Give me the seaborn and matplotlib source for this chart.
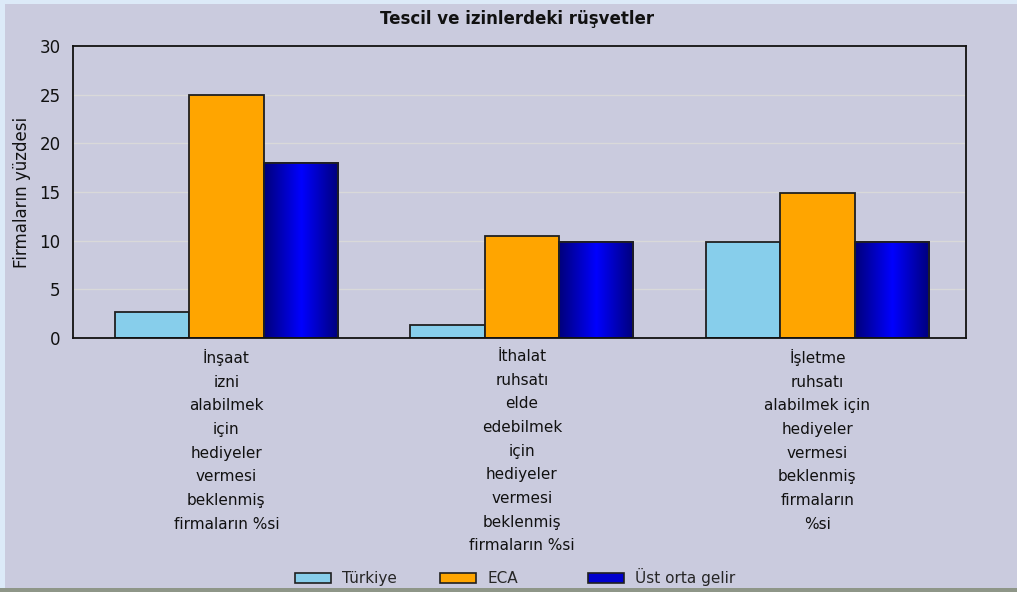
import numpy as np
import pandas as pd
import matplotlib
matplotlib.use("Agg")
import matplotlib.pyplot as plt
import seaborn as sns
from matplotlib.patches import Rectangle
from matplotlib.colors import LinearSegmentedColormap

# ---- data ----
categories = [
    "İnşaat\nizni\nalabilmek\niçin\nhediyeler\nvermesi\nbeklenmiş\nfirmaların %si",
    "İthalat\nruhsatı\nelde\nedebilmek\niçin\nhediyeler\nvermesi\nbeklenmiş\nfirmaların %si",
    "İşletme\nruhsatı\nalabilmek için\nhediyeler\nvermesi\nbeklenmiş\nfirmaların\n%si",
]
series_names = ["Türkiye", "ECA", "Üst orta gelir"]
turkiye = [2.7, 1.3, 9.9]
eca = [25.0, 10.5, 14.9]
ust_orta = [18.0, 9.9, 9.9]
yticks = [0, 5, 10, 15, 20, 25, 30]

title = "Tescil ve izinlerdeki rüşvetler"
ylabel = "Firmaların yüzdesi"

df = pd.DataFrame({
    "cat": categories * 3,
    "series": [s for s in series_names for _ in categories],
    "value": turkiye + eca + ust_orta,
})

bg = "#CACBDE"
palette = {"Türkiye": "#87CEEB", "ECA": "#FFA500", "Üst orta gelir": "#0000CD"}

sns.set_theme(style="white")
plt.rcParams["font.family"] = ["DejaVu Sans"]

fig = plt.figure(figsize=(10.17, 5.92), dpi=100)
fig.patch.set_facecolor("#DCEAF8")
# lavender panel and bottom band
fig.add_artist(Rectangle((5 / 1017, 4 / 592), 1 - 5 / 1017, 1 - 8 / 592,
                         transform=fig.transFigure, facecolor=bg, edgecolor="none", zorder=-10))
fig.add_artist(Rectangle((0, 0), 1, 4 / 592, transform=fig.transFigure,
                         facecolor="#8E9688", edgecolor="none", zorder=-9))

ax = fig.add_axes([73 / 1017, 1 - 338 / 592, (966 - 73) / 1017, (338 - 46) / 592])
ax.set_facecolor(bg)

sns.barplot(data=df, x="cat", y="value", hue="series", palette=palette,
            width=0.755, edgecolor="#202020", linewidth=1.3, ax=ax, legend=False,
            saturation=1, errorbar=None)

# gradient for the third series
cmap = LinearSegmentedColormap.from_list("bl", ["#00007A", "#0000FF", "#00007A"])
grad = np.linspace(0, 1, 256).reshape(1, -1)
for patch in ax.containers[2]:
    x0, y0 = patch.get_x(), patch.get_y()
    w, h = patch.get_width(), patch.get_height()
    im = ax.imshow(grad, cmap=cmap, extent=[x0, x0 + w, y0, y0 + h],
                   aspect="auto", zorder=patch.get_zorder() + 0.1, interpolation="bicubic")
    im.set_clip_path(patch)
    ax.add_patch(Rectangle((x0, y0), w, h, facecolor="none", edgecolor="#202020",
                           linewidth=1.3, zorder=patch.get_zorder() + 0.2))

ax.set_xlim(-0.519, 2.503)
ax.set_ylim(0, 30)
ax.set_yticks(yticks)
ax.set_yticklabels([str(t) for t in yticks], fontsize=12)
ax.tick_params(axis="y", direction="out", length=5, width=1, color="black", pad=4, labelcolor="#111111")
ax.tick_params(axis="x", length=0, pad=8)
ax.set_xticklabels(categories, fontsize=11, linespacing=1.72, va="top", color="#111111")
ax.set_xlabel("")
ax.set_ylabel(ylabel, fontsize=12, color="#111111", labelpad=6)
ax.yaxis.grid(True, color="#D9D9D9", linewidth=1)
ax.set_axisbelow(True)
for s in ax.spines.values():
    s.set_visible(True)
    s.set_color("#111111")
    s.set_linewidth(1.3)

fig.text(0.508, 1 - 19 / 592, title, ha="center", va="center", fontsize=12,
         fontweight="bold", color="#111111")

# legend entries, evenly spaced like the original
legend_x = [287, 432, 580]
for name, xp in zip(series_names, legend_x):
    h = Rectangle((0, 0), 1, 1, facecolor=palette[name], edgecolor="#202020", linewidth=1.2)
    fig.legend([h], [name], loc="lower left",
               bbox_to_anchor=((xp - 6) / 1017, 1 - 600 / 592),
               frameon=False, fontsize=11, handlelength=2.4, handleheight=0.65,
               handletextpad=0.7, borderpad=0.4)

fig.savefig("out.png", dpi=100, facecolor=fig.get_facecolor())
